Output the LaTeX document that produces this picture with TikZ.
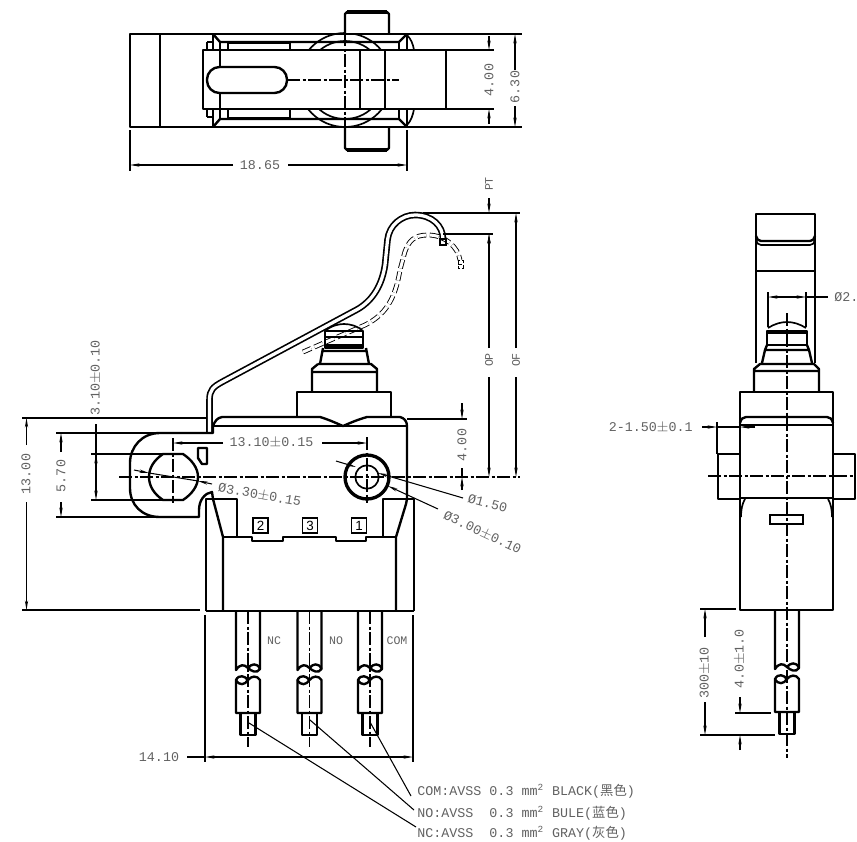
\documentclass[tikz,border=0pt]{standalone}
\usepackage{fontspec}
\setmainfont{Liberation Mono}
\setsansfont{Liberation Sans}
\newfontfamily\cjk{Noto Sans CJK SC}
\usetikzlibrary{arrows.meta}
\tikzset{
  obj/.style={line width=1.35pt,line join=round},
  objthin/.style={line width=.95pt},
  objheavy/.style={line width=1.9pt,line join=round},
  dimline/.style={line width=.6pt,>={Stealth[length=1.9mm,width=.65mm]}},
  ctrline/.style={line width=.6pt,dash pattern=on 2.6mm off .5mm on .6mm off .5mm},
  hidden/.style={line width=.5pt,dash pattern=on 1.8mm off .7mm},
  lbl/.style={inner sep=0pt,text=black!62,font=\fontsize{7.6}{9}\selectfont},
  lblsmall/.style={inner sep=0pt,text=black!62,font=\fontsize{6.6}{8}\selectfont},
  pinnum/.style={draw,line width=.95pt,inner sep=0pt,minimum size=3mm,font=\sffamily\fontsize{7.6}{9}\selectfont},
  wirelead/.pic={
    \draw[obj] (-12,0) -- (-12,59) .. controls (-8,53) and (-4,53) .. (0,57)
      .. controls (3,60) and (9,63) .. (12,58) -- (12,0);
    \draw[obj] (0,57) .. controls (3,53) and (9,51) .. (12,58);
    \draw[obj] (-12,69) .. controls (-9,63) and (-3,65) .. (0,69)
      .. controls (3,65) and (9,64) .. (12,69) -- (12,102) -- (-12,102) -- cycle;
    \draw[obj] (-12,69) .. controls (-9,75) and (-3,74) .. (0,69);
    \draw[obj] (-7.5,102) -- (-7.5,124) -- (7.5,124) -- (7.5,102);
  }
}
\begin{document}
\begin{tikzpicture}[x=.2mm,y=-.2mm]
  \useasboundingbox (0,0) rectangle (857,841);
  % top view
  \draw[objthin] (345,80) circle (47) (345,80) circle (39);
  \draw[objthin] (407,35) .. controls (411,39) and (413,44) .. (414,50);
  \draw[objthin] (407,125) .. controls (411,121) and (413,115) .. (414,109);
  \draw[obj,fill=white] (345,33) -- (345,14) -- (347,12) -- (387,12) -- (389,14) -- (389,33);
  \draw[obj,fill=white] (345,127) -- (345,148) -- (347,150) -- (387,150) -- (389,148) -- (389,127);
  \draw[objheavy] (347,12) -- (387,12) (347,150) -- (387,150);
  \draw[obj] (130,34) rectangle (407,127);
  \draw[obj] (160,34) -- (160,127);
  \draw[obj] (213,34) -- (220,42) -- (399,42) -- (407,34);
  \draw[obj] (213,127) -- (220,119) -- (399,119) -- (407,127);
  \draw[obj] (228,43) rectangle (290,50);
  \draw[obj] (228,109) rectangle (290,118);
  \draw[obj] (207,42) -- (213,42) (207,117) -- (213,117) (207,42) -- (207,117);
  \draw[obj,fill=white] (203,50) rectangle (446,109);
  \draw[obj] (213,34) -- (213,50) (213,109) -- (213,127);
  \draw[obj] (220,42) -- (220,67) (220,93) -- (220,119);
  \draw[obj] (399,42) -- (399,50) (399,109) -- (399,119);
  \draw[obj] (360,50) -- (360,109) (385,50) -- (385,109);
  \draw[obj,rounded corners=2.5mm,fill=white] (207,67) rectangle (287,93);
  \draw[ctrline] (287,80) -- (399,80);
  \draw[ctrline] (345,33) -- (345,127);
  \draw[dimline] (407,34) -- (522,34) (407,127) -- (522,127);
  \draw[dimline] (446,50) -- (494,50) (446,109) -- (494,109);
  \node[lbl,rotate=90] (dimlever) at (489,80) {4.00};
  \draw[dimline,->] (489,36) -- (489,50);
  \draw[dimline,->] (489,124) -- (489,109);
  \node[lbl,rotate=90] (dimwidth) at (515,87) {6.30};
  \draw[dimline,->] (515,70) -- (515,34);
  \draw[dimline,->] (515,106) -- (515,127);
  \draw[dimline] (130,130) -- (130,171) (407,130) -- (407,171);
  \node[lbl] (dimlength) at (260,165) {18.65};
  \draw[dimline,->] (233,165) -- (130,165);
  \draw[dimline,->] (288,165) -- (407,165);
  % front view, lever
  \draw[hidden,double=white,double distance=.6mm] (303,352) -- (365,325) .. controls (385,315) and (395,300) .. (400,270)
    -- (404,255) .. controls (408,240) and (415,235) .. (428,235) .. controls (445,235) and (458,247) .. (460,260);
  \draw[line width=.5pt,dash pattern=on .8mm off .4mm] (458,260) rectangle (463,268) (458,264) -- (463,264);
  \draw[objthin,double=white,double distance=.65mm] (209.5,433) -- (209.5,400) .. controls (209.5,390) and (213,387) .. (222,382)
    -- (358,309) .. controls (373,300) and (382,285) .. (385,265) -- (387.5,240)
    .. controls (389,225) and (402,215) .. (415,215) .. controls (432,215) and (443,226) .. (443,239);
  \draw[objthin] (440,239) rectangle (446,245);
  % plunger
  \draw[objthin] (325,331) .. controls (332,325) and (340,324) .. (344,324) .. controls (350,324) and (358,326) .. (363,331);
  \draw[obj] (325,331) rectangle (363,348);
  \draw[obj] (325,337) -- (363,337);
  \draw[objheavy] (326,346) -- (362,346);
  \draw[obj] (323,348) -- (320,364) (366,348) -- (369,364) (323,351) -- (366,351);
  \draw[obj] (318,364) -- (371,364) -- (377,369) -- (377,392) (318,364) -- (312,369) -- (312,392) (312,372) -- (377,372);
  \draw[obj] (297,417) -- (297,392) -- (391,392) -- (391,417);
  % body
  \draw[obj] (213,426) .. controls (215,421) and (217,418) .. (222,417) -- (320,417) .. controls (330,420) and (338,424) .. (343,426)
    .. controls (348,424) and (356,420) .. (367,417) -- (400,417) .. controls (404,418) and (407,421) .. (407,426) -- (407,499);
  \draw[obj] (213,426) -- (407,426);
  \draw[obj] (213,426) -- (213,433) -- (160,433) .. controls (142,433) and (130,447) .. (130,463) -- (130,488)
    .. controls (130,505) and (142,517) .. (160,517) -- (199,517) -- (199,510) .. controls (199,500) and (205,493) .. (212,492) -- (213,499);
  \draw[obj] (163,454) -- (183,454) .. controls (192,460) and (198,468) .. (198,477) .. controls (198,486) and (192,494) .. (183,500)
    -- (163,500) .. controls (154,494) and (149,486) .. (149,477) .. controls (149,468) and (154,460) .. (163,454) -- cycle;
  \draw[obj] (198,448) -- (207,448) -- (207,464) -- (202,464) -- (198,458) -- cycle;
  \draw[objheavy] (367,477) circle (22);
  \draw[objthin] (367,477) circle (11.7);
  \draw[obj] (206,611) -- (206,499) -- (237,499) -- (237,537);
  \draw[obj] (213,499) -- (223,537) -- (223,611);
  \draw[obj] (223,537) -- (252,537) -- (252,541) -- (283,541) -- (283,537) -- (336,537) -- (336,541) -- (366,541) -- (366,537) -- (396,537);
  \draw[obj] (383,537) -- (383,499) -- (414,499) -- (414,611);
  \draw[obj] (407,499) -- (406,504) -- (396,537) -- (396,611);
  \draw[obj] (206,611) -- (414,611);
  \node[pinnum] (pintwo) at (260.5,525.5) {2};
  \node[pinnum] (pinthree) at (310,525.5) {3};
  \node[pinnum] (pinone) at (359,525.5) {1};
  % leads
  \pic (leadnc) at (248,611) {wirelead};
  \pic (leadno) at (309.5,611) {wirelead};
  \pic (leadcom) at (370,611) {wirelead};
  \draw[ctrline] (248,611) -- (248,747);
  \draw[ctrline] (309.5,611) -- (309.5,747);
  \draw[ctrline] (370,611) -- (370,747);
  \node[lblsmall] (labnc) at (274,641) {NC};
  \node[lblsmall] (labno) at (336,641) {NO};
  \node[lblsmall] (labcom) at (397,641) {COM};
  % centre lines
  \draw[ctrline] (119,477) -- (520,477);
  \draw[ctrline] (173,438) -- (173,503);
  \draw[ctrline] (367,437) -- (367,503);
  % front view, dimensions
  \draw[dimline] (423,213) -- (520,213) (443,234) -- (493,234);
  \node[lblsmall,rotate=90] (dimpt) at (489,184) {PT};
  \draw[dimline,->] (489,198) -- (489,213);
  \draw[dimline,->] (489,247) -- (489,234);
  \node[lblsmall,rotate=90] (dimop) at (489,360) {OP};
  \draw[dimline,->] (489,348) -- (489,234);
  \draw[dimline,->] (489,377) -- (489,477);
  \node[lblsmall,rotate=90] (dimof) at (516,360) {OF};
  \draw[dimline,->] (516,348) -- (516,213);
  \draw[dimline,->] (516,377) -- (516,477);
  \draw[dimline] (407,419) -- (467,419);
  \node[lbl,rotate=90] (dimpost) at (462,445) {4.00};
  \draw[dimline,->] (462,403) -- (462,419);
  \draw[dimline,->] (462,490) -- (462,477);
  \draw[dimline] (462,477) -- (462,468);
  \draw[dimline] (22,418) -- (207,418) (22,610) -- (200,610);
  \node[lbl,rotate=90] (dimheight) at (26,474) {13.00};
  \draw[dimline,->] (26.5,445) -- (26.5,418);
  \draw[dimline,->] (26.5,502) -- (26.5,610);
  \draw[dimline] (56,433) -- (160,433) (56,517) -- (160,517);
  \node[lbl,rotate=90] (dimear) at (61,476) {5.70};
  \draw[dimline,->] (61,452) -- (61,433);
  \draw[dimline,->] (61,502) -- (61,517);
  \draw[dimline] (91,454) -- (163,454) (91,500) -- (163,500);
  \node[lbl,rotate=90] (dimslot) at (96,378) {3.10$\pm$0.10};
  \draw[dimline,->] (96,424) -- (96,500);
  \draw[dimline,->] (96,480) -- (96,454);
  \node[lbl] (dimpitch) at (271.5,443) {13.10$\pm$0.15};
  \draw[dimline,->] (223,443) -- (173,443);
  \draw[dimline,->] (322,443) -- (367,443);
  \draw[dimline] (173,438) -- (173,448);
  \node[lbl,rotate=-10,anchor=west] (dimhole) at (218,488) {Ø3.30$\pm$0.15};
  \draw[dimline,->] (134,470) -- (149,473);
  \draw[dimline,->] (212,484) -- (198,481);
  \draw[dimline] (149,473) -- (198,481);
  \node[lbl,rotate=-15,anchor=west] (diminner) at (468,498) {Ø1.50};
  \draw[dimline,->] (336,461) -- (356,467);
  \draw[dimline,->] (463,498) -- (378,473);
  \node[lbl,rotate=-25,anchor=west] (dimouter) at (444,515) {Ø3.00$\pm$0.10};
  \draw[dimline,->] (438,509) -- (388,486);
  \draw[dimline] (205,615) -- (205,762) (413,615) -- (413,762);
  \node[lbl] (dimpins) at (159,757) {14.10};
  \draw[dimline] (187,757) -- (205,757);
  \draw[dimline,->] (300,757) -- (205,757);
  \draw[dimline,->] (300,757) -- (413,757);
  % wire notes
  \node[lbl,anchor=west] (notecom) at (417,791) {COM:AVSS 0.3 mm\textsuperscript{2} BLACK({\cjk 黑色})};
  \node[lbl,anchor=west] (noteno) at (417,813) {NO:AVSS\ \ 0.3 mm\textsuperscript{2} BULE({\cjk 蓝色})};
  \node[lbl,anchor=west] (notenc) at (417,833) {NC:AVSS\ \ 0.3 mm\textsuperscript{2} GRAY({\cjk 灰色})};
  \coordinate (comend) at (411,796);
  \coordinate (noend) at (414,810);
  \coordinate (ncend) at (416,827);
  \coordinate (compin) at (370,722);
  \coordinate (nopin) at (310,720);
  \coordinate (ncpin) at (249,723);
  \draw[dimline] (compin) -- (comend);
  \draw[dimline] (nopin) -- (noend);
  \draw[dimline] (ncpin) -- (ncend);
  % side view
  \draw[obj] (756,363) -- (756,214) -- (815,214) -- (815,363);
  \draw[obj] (756,271) -- (815,271);
  \draw[obj] (756,236) .. controls (757,239) and (758,241) .. (761,241) -- (810,241) .. controls (813,241) and (814,239) .. (815,236);
  \draw[objthin] (756,240) .. controls (757,243) and (758,245) .. (761,245) -- (810,245) .. controls (813,245) and (814,243) .. (815,240);
  \draw[objthin] (768,328) .. controls (774,324) and (781,322) .. (787,322) .. controls (793,322) and (800,324) .. (806,328);
  \draw[obj] (767,331) rectangle (807,345);
  \draw[objheavy] (767,332) -- (807,332);
  \draw[obj] (767,345) -- (765,350) -- (762,363) (807,345) -- (809,350) -- (812,363) (765,350) -- (809,350);
  \draw[obj] (754,392) -- (754,369) -- (760,364) -- (814,364) -- (819,369) -- (819,392) (754,371) -- (819,371);
  \draw[obj] (740,392) rectangle (833,498);
  \draw[obj] (740,423) .. controls (741,419) and (743,417) .. (746,417) -- (827,417) .. controls (830,417) and (832,419) .. (833,423);
  \draw[obj] (740,425) -- (833,425);
  \draw[obj] (740,454) -- (718,454) -- (718,499) -- (740,499);
  \draw[obj] (833,454) -- (855,454) -- (855,499) -- (833,499);
  \draw[obj] (740,498) rectangle (833,610);
  \draw[objthin] (745,499) .. controls (742,504) and (741,510) .. (741,517);
  \draw[objthin] (828,499) .. controls (831,504) and (832,510) .. (832,517);
  \draw[objthin] (770,515) rectangle (803,524);
  \pic (leadside) at (787,610) {wirelead};
  \draw[ctrline] (787,313) -- (787,758);
  \draw[ctrline] (708,476) -- (855,476);
  % side view, dimensions
  \draw[dimline] (768,292) -- (768,327) (806,292) -- (806,327);
  \draw[dimline,->] (787,297) -- (768,297);
  \draw[dimline,->] (787,297) -- (806,297);
  \draw[dimline] (806,297) -- (828,297);
  \node[lbl,anchor=west] (dimdome) at (834,297) {Ø2.};
  \node[lbl,anchor=east] (dimtab) at (693,428) {2-1.50$\pm$0.1};
  \draw[dimline,->] (702,427) -- (717,427);
  \draw[dimline,->] (755,427) -- (740,427);
  \draw[dimline] (717,422) -- (717,454);
  \draw[dimline] (717,427) -- (740,427);
  \draw[dimline] (700,609) -- (736,609) (700,735) -- (775,735) (735,713) -- (771,713);
  \node[lbl,rotate=90] (dimcable) at (705,673) {300$\pm$10};
  \draw[dimline,->] (705,637) -- (705,609);
  \draw[dimline,->] (705,702) -- (705,735);
  \node[lbl,rotate=90] (dimstrip) at (740,659) {4.0$\pm$1.0};
  \draw[dimline,->] (740,697) -- (740,713);
  \draw[dimline,->] (740,750) -- (740,735);
\end{tikzpicture}
\end{document}
